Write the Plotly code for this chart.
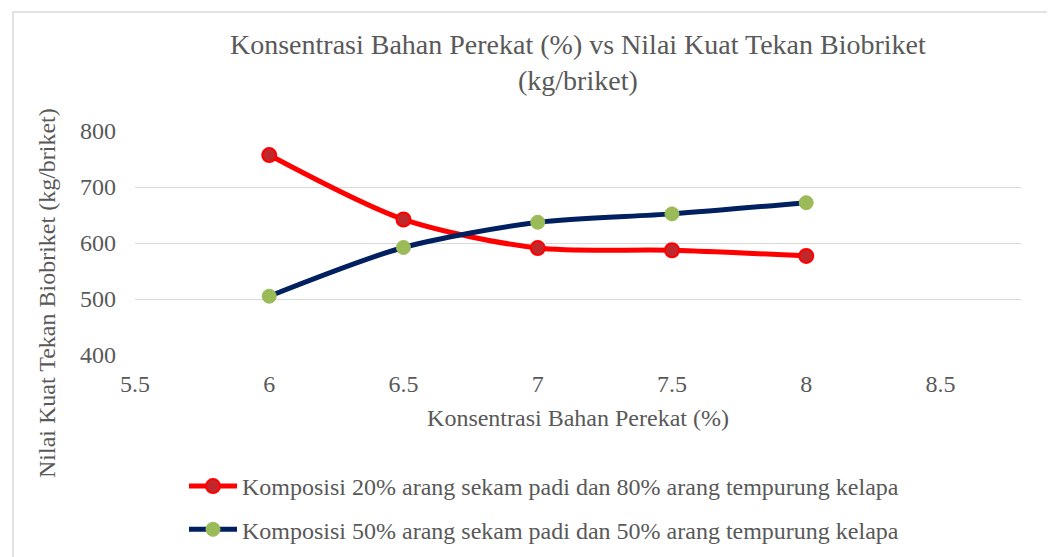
import plotly.graph_objects as go

x_vals = [6, 6.5, 7, 7.5, 8]
red_vals = [757, 642, 591, 587, 577]
navy_vals = [505, 592, 637, 652, 672]
red_name = "Komposisi 20% arang sekam padi dan 80% arang tempurung kelapa"
navy_name = "Komposisi 50% arang sekam padi dan 50% arang tempurung kelapa"
title_text = "Konsentrasi Bahan Perekat (%) vs Nilai Kuat Tekan Biobriket<br>(kg/briket)"
x_title = "Konsentrasi Bahan Perekat (%)"
y_title = "Nilai Kuat Tekan Biobriket (kg/briket)"

FONT = "Liberation Serif, Times New Roman, serif"
GRAY = "#595959"

# page has an 8px body margin; figure sized to fit the window
W, H = 1047, 549
L, T, PW, PH = 127, 123, 886, 224
R, B = W - L - PW, H - T - PH


def px_to_paper_x(px):
    return (px - 8 - L) / PW


def px_to_paper_y(py):
    return (T + PH - (py - 8)) / PH


fig = go.Figure()
fig.add_trace(go.Scatter(
    x=x_vals, y=red_vals, name=red_name, mode="lines+markers",
    line=dict(color="#FF0000", width=5, shape="spline", smoothing=0.8),
    marker=dict(size=14, color="#C0282C", line=dict(color="#FF0000", width=2)),
    legendgroup="a",
))
fig.add_trace(go.Scatter(
    x=x_vals, y=navy_vals, name=navy_name, mode="lines+markers",
    line=dict(color="#002060", width=5, shape="spline", smoothing=0.8),
    marker=dict(size=14, color="#9BBB59", line=dict(color="#9BBB59", width=1)),
    legendgroup="b",
))

fig.update_layout(
    width=W, height=H,
    margin=dict(l=L, r=R, t=T, b=B, autoexpand=False),
    paper_bgcolor="white", plot_bgcolor="white",
    font=dict(family=FONT, color=GRAY, size=24),
    xaxis=dict(range=[5.5, 8.8], dtick=0.5, tick0=5.5, showgrid=False, zeroline=False,
               showline=False, ticks="", tickfont=dict(size=24, color=GRAY),
               ticklabelstandoff=12,
               title=dict(text=x_title, font=dict(size=24, color=GRAY), standoff=13)),
    yaxis=dict(range=[400, 800], dtick=100, showgrid=True, gridcolor="#D9D9D9", gridwidth=1,
               zeroline=False, showline=False, ticks="", tickfont=dict(size=24, color=GRAY),
               ticklabelstandoff=18),
    legend=dict(x=px_to_paper_x(184), xanchor="left", y=px_to_paper_y(464), yanchor="top",
                traceorder="grouped", tracegroupgap=9, font=dict(size=24, color=GRAY),
                itemwidth=48, bgcolor="rgba(0,0,0,0)"),
    showlegend=True,
)

fig.add_annotation(text=title_text, xref="paper", yref="paper",
                   x=0.5, y=px_to_paper_y(62), xanchor="center", yanchor="middle",
                   showarrow=False, font=dict(family=FONT, size=28, color=GRAY))

fig.add_annotation(text=y_title, textangle=-90, xref="paper", yref="paper",
                   x=px_to_paper_x(47), y=px_to_paper_y(293), xanchor="center", yanchor="middle",
                   showarrow=False, font=dict(family=FONT, size=24, color=GRAY))

fig.add_shape(type="rect", xref="paper", yref="paper",
              x0=px_to_paper_x(13), x1=1.2, y0=-1.5, y1=px_to_paper_y(12),
              line=dict(color="#D9D9D9", width=1.5), fillcolor="rgba(0,0,0,0)", layer="below")

fig.write_html("out.html")
